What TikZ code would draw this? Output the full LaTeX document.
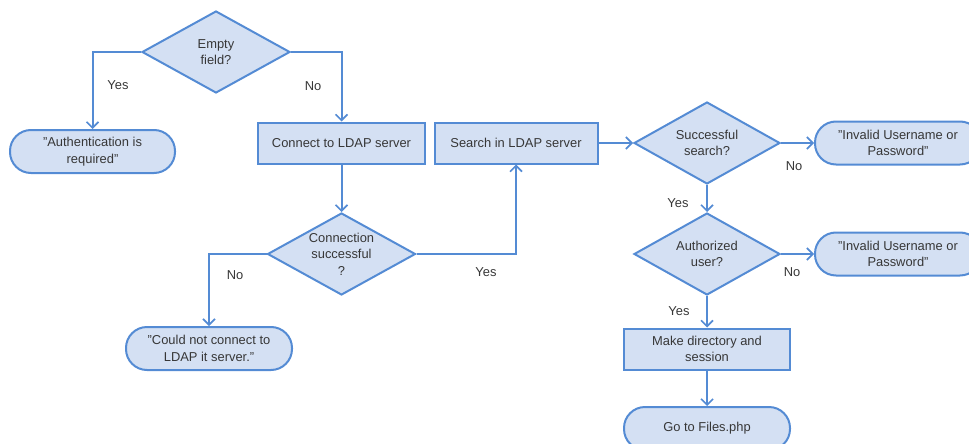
\documentclass[tikz,border=0pt]{standalone}
\usepackage{fontspec}
\setmainfont{Liberation Sans}
\usetikzlibrary{shapes.geometric,arrows.meta}
\definecolor{boxfill}{RGB}{212,224,243}
\definecolor{boxline}{RGB}{84,139,212}
\definecolor{ink}{RGB}{55,55,55}
\tikzset{
  txt/.style={text=ink, font=\fontsize{12.9}{16.5}\selectfont, align=center},
  base/.style={draw=boxline, fill=boxfill, line width=2pt, txt, inner sep=0pt},
  process/.style={base, rectangle, minimum width=166pt, minimum height=41pt},
  % diamonds keep a fixed size; their text is set as a centred label
  decision/.style={base, diamond, minimum width=148pt, minimum height=82pt,
    label={[txt, inner sep=0pt]center:#1}},
  terminal/.style={base, rectangle, rounded corners=21pt, minimum width=166pt, minimum height=43pt},
  conn/.style={draw=boxline, line width=2pt,
    -{Straight Barb[length=6pt,width=12pt,line width=1.6pt]}},
  lbl/.style={text=ink, font=\fontsize{12.9}{14}\selectfont, inner sep=0pt}
}
\begin{document}
\begin{tikzpicture}[x=1pt,y=-1pt]
  \useasboundingbox (0,0) rectangle (969,444);
  \clip (0,0) rectangle (969,444);

  % decisions
  \node[decision={Empty\\field?}] (empty) at (216,52) {};
  \node[decision={Connection\\successful\\?}] (conn) at (341.5,254) {};
  \node[decision={Successful\\search?}, minimum width=146pt] (found) at (707,143) {};
  \node[decision={Authorized\\user?}, minimum width=146pt] (authz) at (707,254) {};

  % processes
  \node[process, minimum width=167pt] (connect) at (341.5,143) {Connect to LDAP server};
  \node[process, minimum width=163pt] (search) at (516,143) {Search in LDAP server};
  \node[process] (mkdir) at (707,349) {Make directory and\\session};

  % terminals
  \node[terminal, minimum width=165pt] (authreq) at (92.5,151.5) {"Authentication is\\required"};
  \node[terminal] (nocon) at (209,348.5) {"Could not connect to\\LDAP it server."};
  \node[terminal] (bad1) at (898,143) {"Invalid Username or\\Password"};
  \node[terminal] (bad2) at (898,254) {"Invalid Username or\\Password"};
  \node[terminal] (files) at (707,428.5) {Go to Files.php};

  % connectors
  \draw[conn] (empty.west) -| (authreq.north);
  \draw[conn] (empty.east) -| (connect.north);
  \draw[conn] (connect.south) -- (conn.north);
  \draw[conn] (conn.west) -| (nocon.north);
  \draw[conn] (conn.east) -| (search.south);
  \draw[conn] (search.east) -- (found.west);
  \draw[conn] (found.east) -- (bad1.west);
  \draw[conn] (found.south) -- (authz.north);
  \draw[conn] (authz.east) -- (bad2.west);
  \draw[conn] (authz.south) -- (mkdir.north);
  \draw[conn] (mkdir.south) -- (files.north);

  % branch labels
  \node[lbl] (l1) at (118,85) {Yes};
  \node[lbl] (l2) at (313,86) {No};
  \node[lbl] (l3) at (235,275) {No};
  \node[lbl] (l4) at (486,272) {Yes};
  \node[lbl] (l5) at (794,166) {No};
  \node[lbl] (l6) at (678,203) {Yes};
  \node[lbl] (l7) at (792,272) {No};
  \node[lbl] (l8) at (679,311) {Yes};
\end{tikzpicture}
\end{document}
